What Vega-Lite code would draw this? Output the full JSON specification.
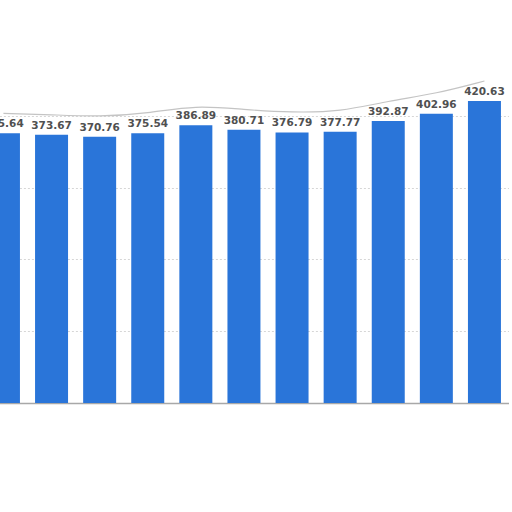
{
  "$schema": "https://vega.github.io/schema/vega-lite/v6.json",
  "autosize": "none",
  "width": 512,
  "height": 359,
  "padding": {"top": 44, "left": 0, "right": 0, "bottom": 109},
  "background": "white",
  "config": {"view": {"stroke": null}},
  "data": {
    "values": [
      {"year": "2011", "value": 375.64},
      {"year": "2012", "value": 373.67},
      {"year": "2013", "value": 370.76},
      {"year": "2014", "value": 375.54},
      {"year": "2015", "value": 386.89},
      {"year": "2016", "value": 380.71},
      {"year": "2017", "value": 376.79},
      {"year": "2018", "value": 377.77},
      {"year": "2019", "value": 392.87},
      {"year": "2020", "value": 402.96},
      {"year": "2021", "value": 420.63}
    ]
  },
  "encoding": {
    "x": {
      "field": "year",
      "type": "ordinal",
      "scale": {"range": [-20.6, 508.5], "paddingInner": 0.314, "paddingOuter": 0.157},
      "axis": {"labels": false, "ticks": false, "title": null, "domainColor": "#a8a8a8", "domainWidth": 1.5}
    },
    "y": {
      "field": "value",
      "type": "quantitative",
      "scale": {"domain": [0, 500]},
      "axis": {
        "values": [100, 200, 300, 400],
        "labels": false,
        "ticks": false,
        "domain": false,
        "title": null,
        "grid": true,
        "gridColor": "#d6d6d6",
        "gridDash": [2, 2],
        "gridWidth": 1
      }
    }
  },
  "layer": [
    {
      "mark": {"type": "line", "interpolate": "basis", "yOffset": -20, "color": "#c4c4c4", "strokeWidth": 1.2},
      "encoding": {}
    },
    {
      "mark": {"type": "bar", "color": "#2a75d9"}
    },
    {
      "mark": {"type": "text", "dy": -9, "font": "DejaVu Sans", "fontSize": 10.5, "fontWeight": "bold", "color": "#505050"},
      "encoding": {"text": {"field": "value", "type": "quantitative", "format": ".2f"}}
    }
  ]
}
